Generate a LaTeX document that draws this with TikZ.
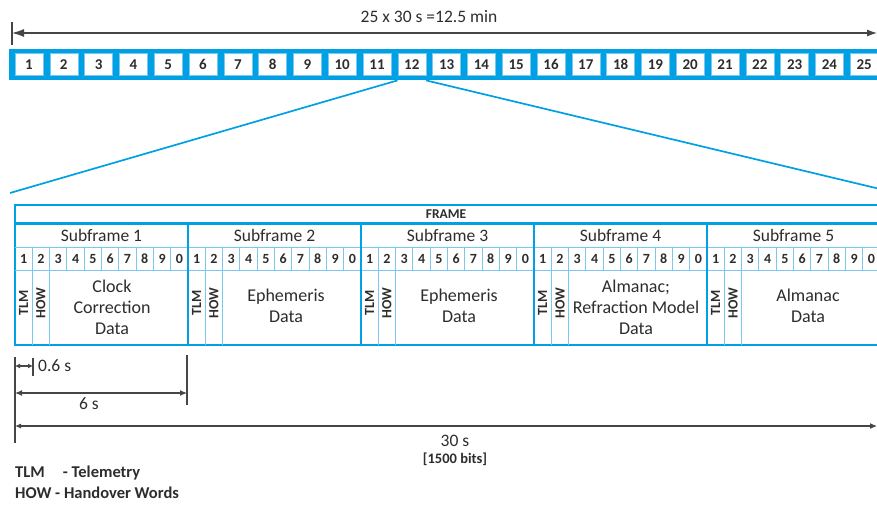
\documentclass[tikz,border=0pt]{standalone}
\usepackage{fontspec}
\setmainfont{Carlito}
\usetikzlibrary{arrows.meta}

\definecolor{gpsblue}{RGB}{0,160,228}
\definecolor{gpslight}{RGB}{120,200,240}
\definecolor{dimgray}{RGB}{70,70,70}
\definecolor{txtgray}{RGB}{45,45,45}

\tikzset{
	thickline/.style={draw=gpsblue, line width=2.4pt},
	thinline/.style={draw=gpslight, line width=1pt},
	zoomline/.style={draw=gpsblue, line width=1.7pt},
	dimline/.style={draw=dimgray, line width=1.1pt},
	topbox/.style={fill=white, draw=gpslight, line width=0.5pt, minimum width=28pt, minimum height=22pt, inner sep=0pt, text=txtgray, font=\fontsize{15}{15}\selectfont\bfseries},
	lbl/.style={inner sep=0pt, text=txtgray, font=\fontsize{17.5}{21}\selectfont},
	datalbl/.style={lbl, align=center, font=\fontsize{18}{21}\selectfont},
	wordlbl/.style={inner sep=0pt, text=txtgray, font=\fontsize{14}{14}\selectfont\bfseries},
	sidelbl/.style={inner sep=0pt, rotate=90, text=txtgray, font=\fontsize{14}{14}\selectfont\bfseries},
	legend/.style={inner sep=0pt, anchor=west, text=txtgray, font=\fontsize{16.5}{17}\selectfont\bfseries}
}

\begin{document}
\begin{tikzpicture}[x=1pt,y=-1pt]
	\useasboundingbox (0,0) rectangle (877,505);

	% 25 frames
	\node[lbl] (total) at (429,17) {25 x 30 s =12.5 min};
	\coordinate (tl) at (12,33);
	\coordinate (tr) at (877,33);
	\draw[dimline] (12,22) -- (12,45);
	\draw[dimline, {Latex[length=12pt,width=8pt]}-{Latex[length=10pt,width=7pt]}] (tl) -- (tr);

	\node[fill=gpsblue, minimum width=871pt, minimum height=31pt, inner sep=0pt, anchor=north west] (bar) at (9,49) {};
	\foreach \i in {1,...,25}
		\node[topbox] (f\i) at ({29+(\i-1)*34.8},64.5) {\i};

	% zoom onto frame 12
	\coordinate (zl) at (10,193);
	\coordinate (zr) at (880,189);
	\draw[zoomline] (f12.west |- bar.south) -- (zl);
	\draw[zoomline] (f12.east |- bar.south) -- (zr);

	% one frame = 5 subframes
	\draw[thickline] (15,205) rectangle (880,345);
	\draw[thickline] (15,223.5) -- (880,223.5);
	\draw[thinline] (15,247.5) -- (880,247.5);
	\draw[thinline] (15,270) -- (880,270);
	\node[inner sep=0pt, text=txtgray, font=\fontsize{13.5}{14}\selectfont\bfseries] (frame) at (446,214) {FRAME};

	\foreach \k in {1,...,5}{
		\pgfmathsetmacro{\sfx}{15+(\k-1)*173}
		\ifnum\k<5
			\draw[thickline] ({\sfx+173},223.5) -- ({\sfx+173},345);
		\fi
		\foreach \j in {1,...,9}
			\draw[thinline] ({\sfx+\j*17.3},247.5) -- ({\sfx+\j*17.3},270);
		\draw[thinline] ({\sfx+17.3},270) -- ({\sfx+17.3},345);
		\draw[thinline] ({\sfx+34.6},270) -- ({\sfx+34.6},345);
		\node[lbl] (sf\k) at ({\sfx+86.5},235.5) {Subframe \k};
		\foreach \j/\n in {1/1,2/2,3/3,4/4,5/5,6/6,7/7,8/8,9/9,10/0}
			\node[wordlbl] (w\k-\j) at ({\sfx+(\j-0.5)*17.3},259) {\n};
		\node[sidelbl] (tlm\k) at ({\sfx+8.65},303) {TLM};
		\node[sidelbl] (how\k) at ({\sfx+25.95},303) {HOW};
	}
	\node[datalbl] (d1) at (112,307) {Clock\\Correction\\Data};
	\node[datalbl] (d2) at (286,306) {Ephemeris\\Data};
	\node[datalbl] (d3) at (459,306) {Ephemeris\\Data};
	\node[datalbl] (d4) at (636,307) {Almanac;\\Refraction Model\\Data};
	\node[datalbl] (d5) at (808,306) {Almanac\\Data};

	% timing
	\coordinate (t0) at (15,366);
	\coordinate (t1) at (33,366);
	\coordinate (s0) at (15,393);
	\coordinate (s1) at (187,393);
	\coordinate (h0) at (15,426);
	\coordinate (h1) at (877,426);
	\draw[dimline] (15,357) -- (15,443);
	\draw[dimline] (33,358) -- (33,376);
	\draw[dimline] (187,355) -- (187,405);
	\draw[dimline, {Latex[length=5pt,width=5pt]}-{Latex[length=5pt,width=5pt]}] (t0) -- (t1);
	\draw[dimline, {Latex[length=7pt,width=6pt]}-{Latex[length=7pt,width=6pt]}] (s0) -- (s1);
	\draw[dimline, {Latex[length=6pt,width=5pt]}-{Latex[length=7pt,width=6pt]}] (h0) -- (h1);
	\node[lbl, anchor=west] (l06) at (38,366) {0.6 s};
	\node[lbl] (l6) at (89,404) {6 s};
	\node[lbl] (l30) at (455,441) {30 s};
	\node[inner sep=0pt, text=txtgray, font=\fontsize{14.5}{15}\selectfont\bfseries] (bits) at (455,459) {[1500 bits]};

	% legend
	\node[legend] (leg1) at (15,473) {TLM\hspace{1.1em}- Telemetry};
	\node[legend] (leg2) at (15,493) {HOW - Handover Words};
\end{tikzpicture}
\end{document}
